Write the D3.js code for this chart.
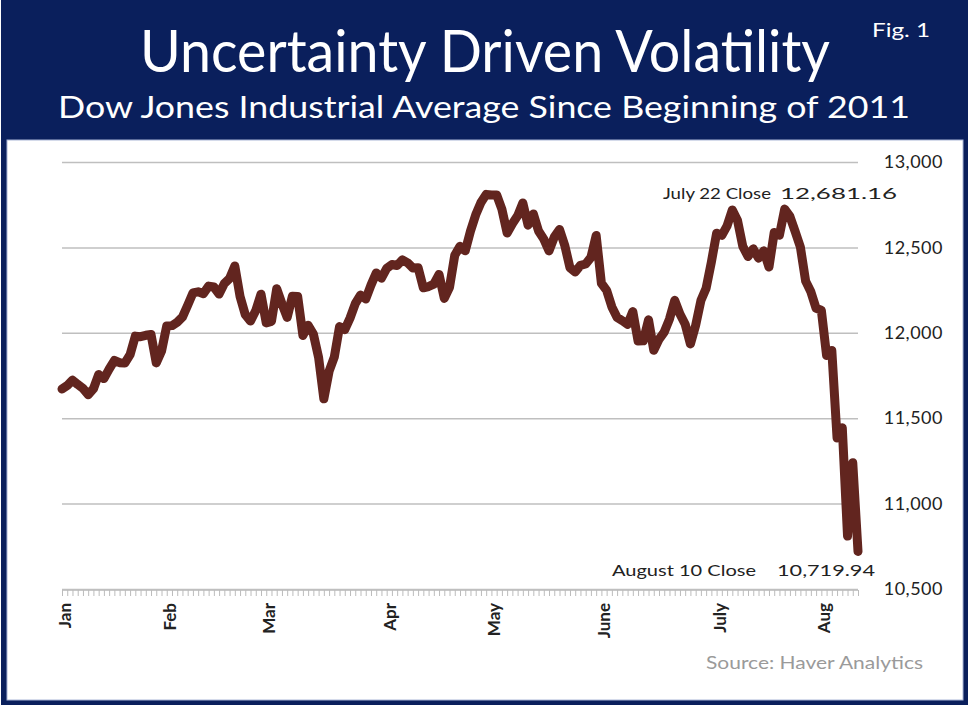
<!DOCTYPE html>
<html>
<head>
<meta charset="utf-8">
<script src="https://cdn.jsdelivr.net/npm/d3@7"></script>
<style>
  body { margin: 0; background: #fff; }
  text { font-family: "Lato", "DejaVu Sans", sans-serif; }
</style>
</head>
<body>
<div id="chart"></div>
<script>
// DJIA daily closes, Jan 3 - Aug 10 2011
var janCloses = [11670.75, 11691.18, 11722.89, 11697.31, 11674.76, 11637.45, 11671.88, 11755.44, 11731.90, 11787.38,
  11837.93, 11825.29, 11822.80, 11871.84, 11980.52, 11977.19, 11985.44, 11989.83, 11823.70, 11891.93];
var febCloses = [12040.16, 12041.97, 12062.26, 12092.15, 12161.63, 12233.15, 12239.89, 12229.29, 12273.26, 12268.19,
  12226.64, 12288.17, 12318.14, 12391.25, 12212.79, 12105.78, 12068.50, 12130.45, 12226.34];
var marCloses = [12058.02, 12066.80, 12258.20, 12169.88, 12090.03, 12214.38, 12213.09, 11984.61, 12044.40, 11993.16,
  11855.42, 11613.30, 11774.59, 11858.52, 12036.53, 12018.63, 12086.02, 12170.56, 12220.59, 12197.88,
  12279.01, 12350.61, 12319.73];
var aprCloses = [12376.72, 12400.03, 12393.90, 12426.75, 12409.49, 12380.05, 12381.11, 12263.58, 12270.99, 12285.15,
  12341.83, 12201.59, 12266.75, 12453.54, 12505.99, 12479.88, 12595.37, 12690.96, 12763.31, 12810.54];
var mayCloses = [12807.36, 12807.51, 12723.58, 12584.17, 12638.74, 12684.68, 12760.36, 12630.03, 12695.92, 12595.75,
  12548.37, 12479.58, 12560.18, 12605.32, 12512.04, 12381.26, 12356.21, 12394.66, 12402.76, 12441.58,
  12569.79];
var junCloses = [12290.14, 12248.55, 12151.26, 12089.96, 12070.81, 12048.94, 12124.36, 11951.91, 11952.97, 12076.11,
  11897.27, 11961.52, 12004.36, 12080.38, 12190.01, 12109.67, 12050.00, 11934.58, 12043.56, 12188.69,
  12261.42, 12414.34];
var julCloses = [12582.77, 12569.87, 12626.02, 12719.49, 12657.20, 12505.76, 12446.88, 12491.61, 12437.12, 12479.73,
  12385.16, 12587.42, 12571.91, 12724.41, 12681.16, 12592.80, 12501.30, 12302.55, 12240.11, 12143.24];
var augCloses = [12132.49, 11866.62, 11896.44, 11383.68, 11444.61, 10809.85, 11239.77, 10719.94];

var monthLabels = ["Jan", "Feb", "Mar", "Apr", "May", "June", "July", "Aug"];
var yTicks = [10500, 11000, 11500, 12000, 12500, 13000];

var closes = [].concat(janCloses, febCloses, marCloses, aprCloses, mayCloses, junCloses, julCloses, augCloses);
var monthStarts = [];
var acc = 0;
[janCloses, febCloses, marCloses, aprCloses, mayCloses, junCloses, julCloses, augCloses].forEach(function(m){
  monthStarts.push(acc);
  acc += m.length;
});

const WIDTH = 970;
const HEIGHT = 707;
const NAVY = "#0a1f5c";

var svg = d3.select("#chart").append("svg")
  .attr("width", WIDTH)
  .attr("height", HEIGHT);

// frame
svg.append("rect").attr("x", 1).attr("y", 0).attr("width", 967).attr("height", 705).attr("fill", NAVY);
svg.append("rect").attr("x", 7).attr("y", 140).attr("width", 956).attr("height", 560)
  .attr("fill", "#fff").attr("stroke", "#aab6d6").attr("stroke-width", 1);

// titles
svg.append("text").attr("x", 485).attr("y", 72).attr("text-anchor", "middle")
  .attr("fill", "#fff").attr("font-size", 58)
  .attr("textLength", 690).attr("lengthAdjust", "spacingAndGlyphs")
  .text("Uncertainty Driven Volatility");
svg.append("text").attr("x", 484).attr("y", 118).attr("text-anchor", "middle")
  .attr("fill", "#fff").attr("font-size", 30)
  .attr("textLength", 852).attr("lengthAdjust", "spacingAndGlyphs")
  .text("Dow Jones Industrial Average Since Beginning of 2011");
svg.append("text").attr("x", 872).attr("y", 37)
  .attr("fill", "#fff").attr("font-size", 19)
  .attr("textLength", 58).attr("lengthAdjust", "spacingAndGlyphs")
  .text("Fig. 1");

var xScale = d3.scaleLinear()
  .domain([0, closes.length - 1])
  .range([62, 858]);

var yScale = d3.scaleLinear()
  .domain([10500, 13000])
  .range([589, 162]);

// gridlines
svg.append("g")
  .attr("transform", "translate(62,0)")
  .call(d3.axisLeft(yScale).tickValues(yTicks).tickSize(-796).tickFormat(""))
  .call(function(g){
    g.select(".domain").remove();
    g.selectAll("line").attr("stroke", "#bfbfbf").attr("stroke-width", 1.5);
  });

// y labels on the right
svg.append("g")
  .attr("transform", "translate(858,0)")
  .call(d3.axisRight(yScale).tickValues(yTicks).tickSize(0).tickFormat(d3.format(",")))
  .call(function(g){
    g.select(".domain").remove();
    g.selectAll("text")
      .attr("x", 85)
      .attr("text-anchor", "end")
      .attr("fill", "#222")
      .attr("font-size", 18)
      .attr("font-family", "DejaVu Sans, sans-serif")
      .attr("letter-spacing", 0.5);
  });

// daily minor ticks
svg.append("g")
  .attr("transform", "translate(0,590)")
  .call(d3.axisBottom(xScale).tickValues(d3.range(closes.length)).tickSize(6).tickFormat(""))
  .call(function(g){
    g.select(".domain").attr("stroke", "#c8c8c8");
    g.selectAll(".tick line").attr("stroke", "#bcbcbc");
  });

// month labels
svg.append("g")
  .selectAll("text")
  .data(monthStarts)
  .enter().append("text")
  .attr("transform", function(d){ return "translate(" + (xScale(d) + 3) + ",603) rotate(-90)"; })
  .attr("dy", "0.35em")
  .attr("text-anchor", "end")
  .attr("font-size", 17)
  .attr("font-weight", "bold")
  .attr("fill", "#222")
  .text(function(d, i){ return monthLabels[i]; });

// the line
var line = d3.line()
  .x(function(d, i){ return xScale(i); })
  .y(function(d){ return yScale(d); });

svg.append("path")
  .datum(closes)
  .attr("d", line)
  .attr("fill", "none")
  .attr("stroke", "#62251f")
  .attr("stroke-width", 9)
  .attr("stroke-linejoin", "round")
  .attr("stroke-linecap", "round");

// annotations
svg.append("text").attr("x", 663).attr("y", 199).attr("font-size", 16).attr("fill", "#222")
  .attr("textLength", 108).attr("lengthAdjust", "spacingAndGlyphs").text("July 22 Close");
svg.append("text").attr("x", 780).attr("y", 199).attr("font-size", 16).attr("fill", "#222")
  .attr("textLength", 117).attr("lengthAdjust", "spacingAndGlyphs").text("12,681.16");
svg.append("text").attr("x", 612).attr("y", 576).attr("font-size", 16).attr("fill", "#222")
  .attr("textLength", 144).attr("lengthAdjust", "spacingAndGlyphs").text("August 10 Close");
svg.append("text").attr("x", 777).attr("y", 576).attr("font-size", 16).attr("fill", "#222")
  .attr("textLength", 98).attr("lengthAdjust", "spacingAndGlyphs").text("10,719.94");

svg.append("text").attr("x", 706).attr("y", 669).attr("font-size", 17).attr("fill", "#9a9a9a")
  .attr("textLength", 217).attr("lengthAdjust", "spacingAndGlyphs").text("Source:  Haver Analytics");
</script>
</body>
</html>
